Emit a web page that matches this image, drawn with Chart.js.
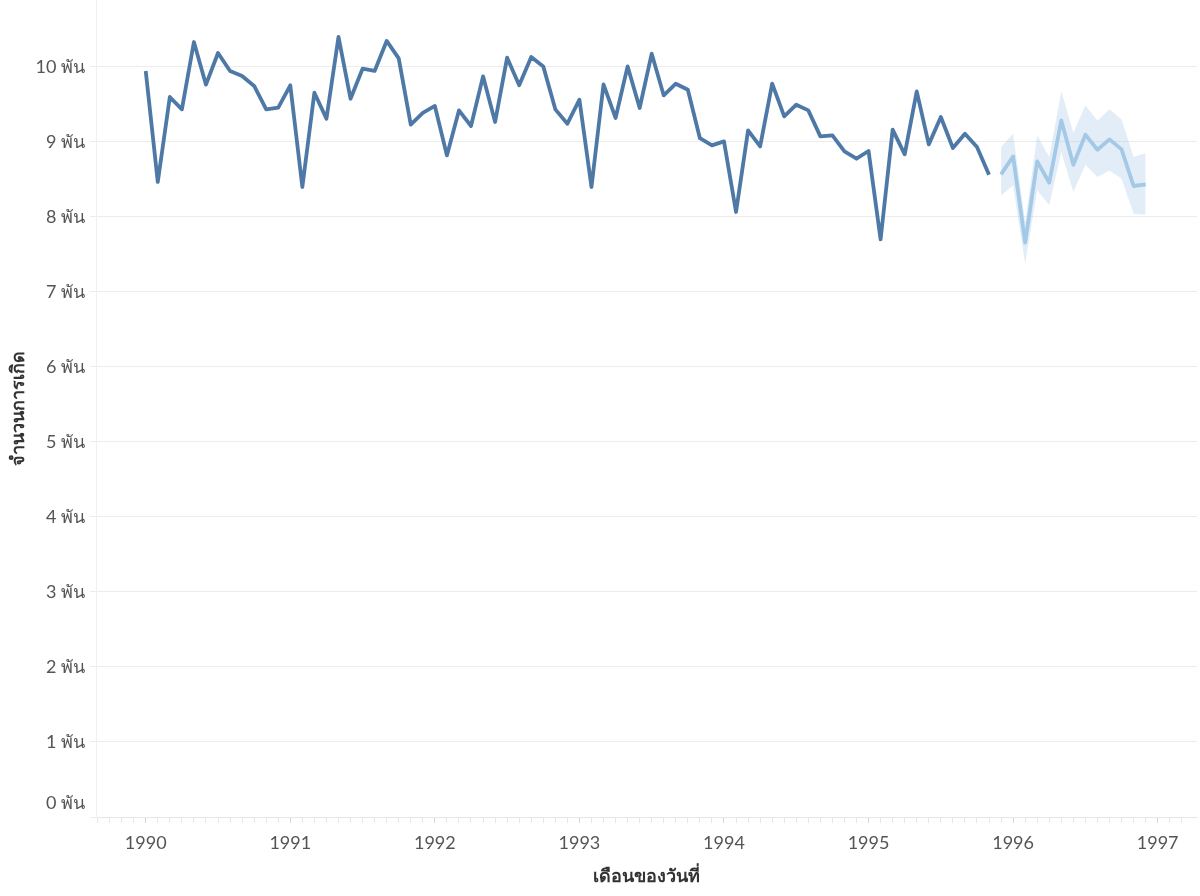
<!DOCTYPE html>
<html>
<head>
<meta charset="utf-8">
<title>จำนวนการเกิด</title>
<script src="https://cdn.jsdelivr.net/npm/chart.js@4.4.0/dist/chart.umd.min.js"></script>
<style>
  html, body { margin: 0; padding: 0; background: #fff; }
  #wrap { width: 1200px; height: 896px; position: relative; }
</style>
</head>
<body>
<div id="wrap"><canvas id="birthsChart"></canvas></div>
<script>
// monthly births, Jan 1990 - Nov 1995
const births = [
  9947, 8467, 9600, 9435, 10333, 9764, 10187, 9947, 9880, 9747, 9435, 9457,
  9755, 8400, 9657, 9311, 10400, 9577, 9977, 9947, 10347, 10115, 9231, 9387,
  9480, 8821, 9421, 9213, 9875, 9267, 10124, 9755, 10133, 10008, 9435, 9244,
  9564, 8400, 9768, 9320, 10008, 9453, 10177, 9621, 9777, 9697, 9050, 8955,
  9008, 8067, 9155, 8941, 9777, 9341, 9497, 9421, 9075, 9088, 8875, 8777,
  8880, 7701, 9164, 8835, 9675, 8968, 9333, 8920, 9111, 8933, 8564
];

// forecast Dec 1995 - Dec 1996 with its band
const forecast = [8568, 8808, 7657, 8741, 8457, 9288, 8697, 9097, 8897, 9035, 8901, 8413, 8435];
const forecastHigh = [8933, 9111, 7933, 9088, 8800, 9680, 9124, 9488, 9288, 9435, 9301, 8800, 8853];
const forecastLow = [8288, 8420, 7377, 8355, 8155, 8867, 8333, 8697, 8533, 8621, 8511, 8044, 8031];

const startYear = 1990;
const forecastStart = births.length; // month index of first forecast point
const yTicks = [0, 1000, 2000, 3000, 4000, 5000, 6000, 7000, 8000, 9000, 10000];

const toPoints = (arr, offset) => arr.map((v, i) => ({ x: startYear + (offset + i) / 12, y: v }));
const yLabel = v => v / 1000 + " พัน";

const font = "Lato, 'Noto Sans', 'DejaVu Sans', sans-serif";

// the bottom y label sits a bit above its tick, like the original
const zeroLabel = {
  id: "zeroLabel",
  afterDraw(chart) {
    const y = chart.scales.y;
    const c = chart.ctx;
    c.save();
    c.font = "18px " + font;
    c.fillStyle = "#555";
    c.textAlign = "right";
    c.textBaseline = "middle";
    c.fillText(yLabel(yTicks[0]), y.right - 11, y.getPixelForValue(yTicks[0]) - 14);
    c.restore();
  }
};

const ctx = document.getElementById("birthsChart").getContext("2d");
new Chart(ctx, {
  type: "line",
  data: {
    datasets: [
      {
        label: "จำนวนการเกิด",
        data: toPoints(births, 0),
        borderColor: "#4e79a7",
        borderWidth: 3.8,
        borderJoinStyle: "round",
        pointRadius: 0,
        tension: 0,
        fill: false
      },
      {
        label: "พยากรณ์",
        data: toPoints(forecast, forecastStart),
        borderColor: "#a3c9e7",
        borderWidth: 3.8,
        borderJoinStyle: "round",
        pointRadius: 0,
        tension: 0,
        fill: false
      },
      {
        label: "upper",
        data: toPoints(forecastHigh, forecastStart),
        borderWidth: 0,
        pointRadius: 0,
        backgroundColor: "rgba(165, 199, 233, 0.32)",
        fill: "+1"
      },
      {
        label: "lower",
        data: toPoints(forecastLow, forecastStart),
        borderWidth: 0,
        pointRadius: 0,
        fill: false
      }
    ]
  },
  plugins: [zeroLabel],
  options: {
    responsive: true,
    maintainAspectRatio: false,
    animation: false,
    layout: { padding: { top: 0, right: 3, bottom: 0, left: 0 } },
    plugins: {
      legend: { display: false },
      tooltip: { enabled: false }
    },
    scales: {
      x: {
        type: "linear",
        min: 1989.656,
        max: 1997.272,
        afterBuildTicks: scale => {
          // one tick per month, Sep 1989 .. Mar 1997
          const ticks = [];
          for (let m = -4; m <= 86; m++) ticks.push({ value: startYear + m / 12 });
          scale.ticks = ticks;
        },
        afterFit: scale => {
          scale.height = 79;
          scale.paddingLeft = 0;
          scale.paddingRight = 0;
        },
        ticks: {
          autoSkip: false,
          maxRotation: 0,
          padding: 9,
          color: "#555",
          font: { family: font, size: 18 },
          callback: v => (Math.abs(v - Math.round(v)) < 1e-6 ? String(Math.round(v)) : "")
        },
        grid: {
          drawOnChartArea: false,
          drawTicks: true,
          tickLength: 6,
          tickColor: c => {
            const v = c.tick ? c.tick.value : 0;
            return Math.abs(v - Math.round(v)) < 1e-6 ? "#d4d4d4" : "#e6e6e6";
          }
        },
        border: { color: "#e6e6e6", width: 1 },
        title: {
          display: true,
          text: "เดือนของวันที่",
          color: "#333",
          padding: { top: 0, bottom: 9 },
          font: { family: font, size: 18, weight: "bold" }
        }
      },
      y: {
        min: 0,
        max: 10893,
        afterBuildTicks: scale => {
          scale.ticks = yTicks.map(v => ({ value: v }));
        },
        afterFit: scale => {
          scale.width = 96;
          scale.paddingTop = 0;
          scale.paddingBottom = 0;
        },
        ticks: {
          padding: 5,
          color: "#555",
          font: { family: font, size: 18 },
          // zero is drawn by the zeroLabel plugin
          callback: v => (v === 0 ? "" : yLabel(v))
        },
        grid: {
          color: "#ececec",
          lineWidth: 1,
          tickLength: 6
        },
        border: { color: "#f0f0f0", width: 1 },
        title: {
          display: true,
          text: "จำนวนการเกิด",
          color: "#333",
          padding: { top: 7, bottom: 0 },
          font: { family: font, size: 18, weight: "bold" }
        }
      }
    }
  }
});
</script>
</body>
</html>
